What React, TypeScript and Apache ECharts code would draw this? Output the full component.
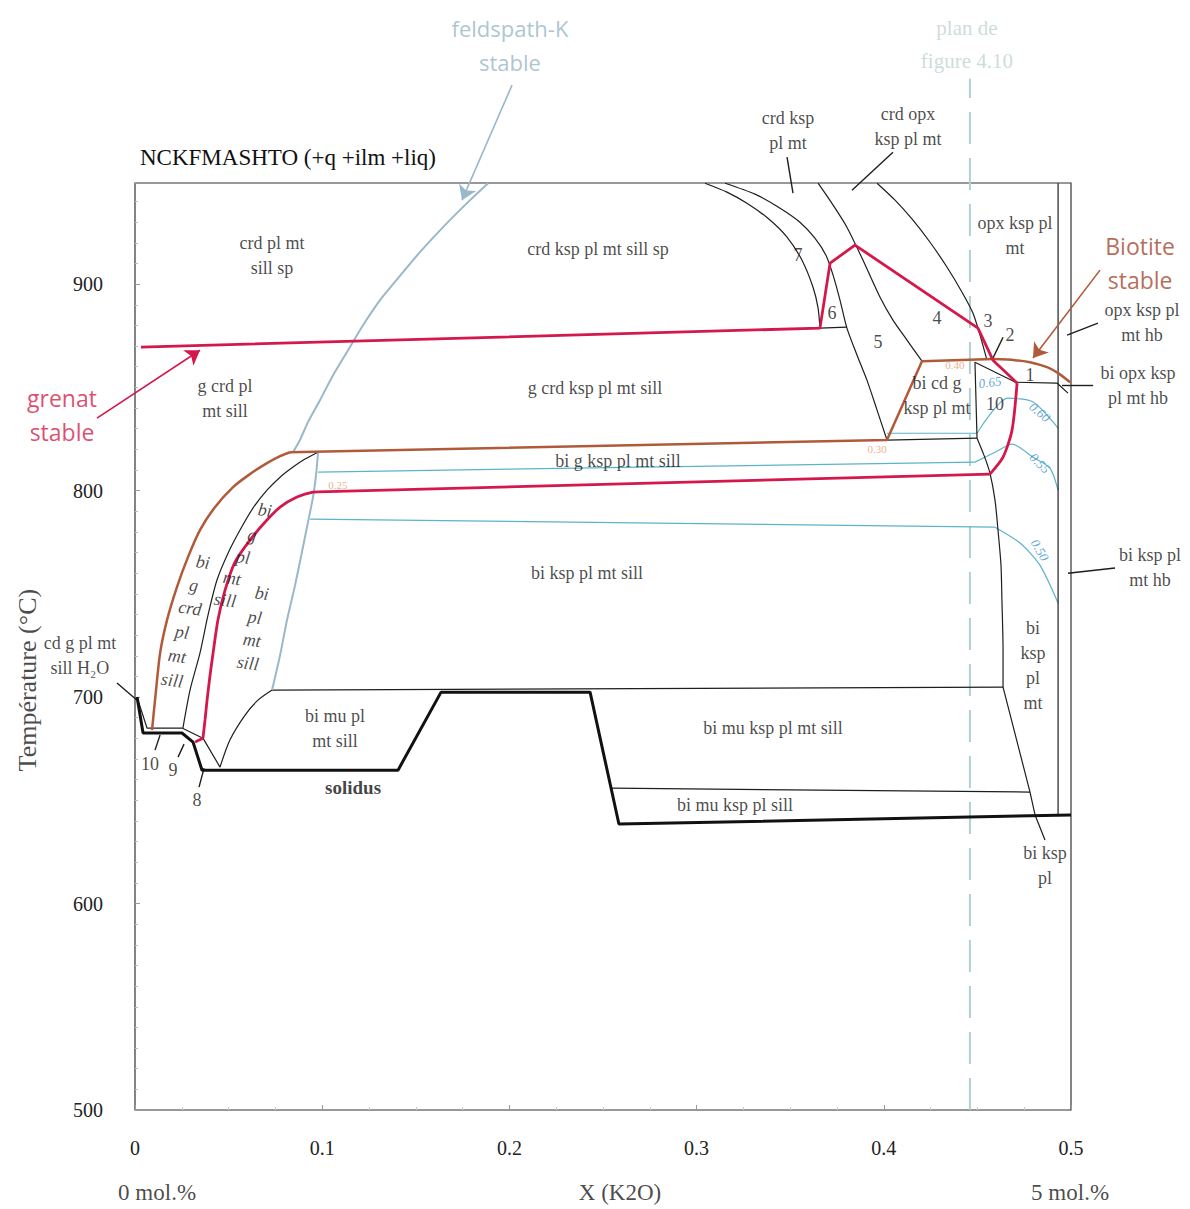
import React, { useEffect, useRef } from "react";
import * as echarts from "echarts";

type P = [number, number];

// Axis definition
const X_MIN = 0;
const X_MAX = 0.5;
const Y_MIN = 500;
const Y_MAX = 949;

// Solidus (thick black)
const SOLIDUS: P[] = [[0.0011, 700.0], [0.0043, 682.6], [0.0251, 682.6], [0.031, 678.2], [0.0358, 664.6], [0.1405, 664.6], [0.1635, 702.4], [0.2431, 702.4], [0.2585, 638.5], [0.5, 642.9]];

// Thin black boundaries: [points, smooth]
const BLACK_LINES: [P[], boolean][] = [
  [[[0.0732, 703.4], [0.4637, 704.8]], false],
  [[[0.0011, 700.0], [0.0064, 685.0], [0.0251, 685.0], [0.0363, 680.1], [0.0454, 666.1]], false],
  [[[0.0454, 666.1], [0.0507, 679.2], [0.0588, 691.3], [0.0657, 698.5], [0.0732, 703.4]], true],
  [[[0.0256, 685.0], [0.0294, 703.4], [0.0347, 721.3], [0.039, 739.7], [0.0438, 756.7], [0.0497, 769.7], [0.0561, 780.9], [0.063, 791.5], [0.0705, 800.2], [0.0775, 806.5], [0.0844, 811.4], [0.0908, 815.3], [0.0978, 818.6]], true],
  [[[0.3045, 948.9], [0.3162, 944.6], [0.3269, 939.2], [0.3381, 931.9], [0.3483, 922.8], [0.3563, 911.6], [0.3622, 898.5], [0.3649, 888.4], [0.3659, 878.7]], true],
  [[[0.3152, 948.9], [0.3312, 943.6], [0.3446, 936.8], [0.3552, 930.0], [0.3632, 922.3], [0.3691, 914.0], [0.3729, 904.4], [0.3766, 892.3], [0.3803, 878.7], [0.3857, 865.6], [0.391, 853.5], [0.3964, 839.0], [0.4017, 824.5]], true],
  [[[0.3659, 878.7], [0.3803, 879.2]], false],
  [[[0.3649, 948.9], [0.3729, 938.3], [0.3803, 927.6], [0.3889, 911.6], [0.398, 893.7], [0.4049, 882.6], [0.4124, 872.9], [0.4204, 862.7]], true],
  [[[0.3964, 948.9], [0.406, 940.7], [0.4156, 931.0], [0.4247, 920.3], [0.4338, 908.2], [0.4418, 896.1], [0.4476, 886.0], [0.4514, 875.3], [0.4551, 863.2]], true],
  [[[0.4487, 862.2], [0.4498, 825.4]], false],
  [[[0.4487, 862.2], [0.4712, 852.1]], false],
  [[[0.4017, 824.5], [0.4498, 825.4]], false],
  [[[0.4498, 825.4], [0.4535, 817.2], [0.4567, 808.5], [0.4594, 795.4], [0.461, 780.9], [0.4626, 763.9], [0.4631, 747.0], [0.4637, 722.8], [0.4637, 704.8]], true],
  [[[0.4637, 704.8], [0.4781, 654.0], [0.4808, 642.9]], false],
  [[[0.4808, 642.9], [0.4861, 630.8]], false],
  [[[0.2543, 655.9], [0.4781, 654.0]], false],
  [[[0.4701, 852.5], [0.4925, 852.1], [0.4984, 847.2]], false],
  [[[0.4931, 948.9], [0.4931, 642.9]], false],
];

// Label leader lines
const POINTERS: P[][] = [
  [[0.3483, 961.5], [0.3515, 944.1]],
  [[0.4049, 963.9], [0.383, 945.5]],
  [[0.5144, 881.1], [0.4979, 875.3]],
  [[0.5118, 851.1], [0.4952, 851.1]],
  [[0.5235, 762.5], [0.4984, 760.0]],
  [[-0.0096, 706.8], [0.0011, 698.5]],
  [[0.0107, 674.3], [0.0134, 681.6]],
  [[0.023, 670.9], [0.0262, 677.2]],
  [[0.0342, 656.4], [0.0369, 665.6]],
  [[0.4637, 874.3], [0.4583, 864.2]],
];

// Biotite-in (brown)
const BROWN_LINES: [P[], boolean][] = [
  [[[0.0091, 684.0], [0.0107, 698.5], [0.0134, 721.3], [0.0171, 737.3], [0.0224, 753.3], [0.0283, 767.8], [0.0347, 780.9], [0.0427, 792.0], [0.0524, 801.7], [0.0614, 808.0], [0.0705, 813.3], [0.0775, 816.7], [0.0828, 818.6]], true],
  [[[0.0828, 818.6], [0.4017, 824.5], [0.4204, 862.7], [0.4583, 863.7]], false],
  [[[0.4583, 863.7], [0.4701, 863.2], [0.4781, 862.2], [0.4872, 859.8], [0.4931, 856.9], [0.4995, 852.5]], true],
];

// Garnet-in (crimson)
const RED_LINES: [P[], boolean][] = [
  [[[0.0321, 678.2], [0.0363, 680.1]], false],
  [[[0.0363, 680.1], [0.0374, 688.9], [0.0385, 698.5], [0.0401, 710.7], [0.0417, 721.3], [0.0443, 737.3], [0.0481, 751.8], [0.0534, 765.4], [0.0614, 776.0], [0.0694, 784.7], [0.0775, 792.0], [0.0865, 796.9], [0.0951, 799.3], [0.0978, 799.4]], true],
  [[[0.0978, 799.4], [0.4567, 808.0]], false],
  [[[0.4567, 808.0], [0.4637, 816.2], [0.4685, 829.3], [0.4712, 852.1]], true],
  [[[0.4712, 852.1], [0.4583, 863.2], [0.4503, 878.7], [0.3846, 918.9], [0.3713, 910.2], [0.3659, 878.7], [0.0032, 869.5]], false],
];

// K-feldspar-in (light blue)
const BLUE_LINES: [P[], boolean][] = [
  [[[0.1886, 948.9], [0.179, 940.7], [0.1656, 928.6], [0.1522, 915.5], [0.1405, 902.9], [0.1309, 892.3], [0.1218, 880.1], [0.1138, 868.0], [0.1058, 855.9], [0.0988, 843.8], [0.0924, 833.2], [0.0881, 824.5], [0.0844, 818.6]], true],
  [[[0.0978, 818.6], [0.0967, 807.5], [0.0951, 796.9], [0.0924, 784.7], [0.0897, 772.6], [0.0855, 754.2], [0.0812, 737.3], [0.0775, 720.3], [0.0732, 703.4]], true],
];

// Isopleths (cyan)
const CYAN_LINES: [P[], boolean][] = [
  [[[0.0978, 809.0], [0.4487, 813.8]], false],
  [[[0.4487, 813.8], [0.4594, 818.6], [0.4685, 822.5], [0.4797, 816.2], [0.4888, 810.9], [0.4931, 800.2]], true],
  [[[0.0935, 786.2], [0.4594, 782.3]], false],
  [[[0.4594, 782.3], [0.4728, 774.6], [0.4834, 763.9], [0.4931, 745.5]], true],
  [[[0.4017, 827.8], [0.4498, 827.8]], false],
  [[[0.4498, 827.8], [0.4663, 844.8], [0.4797, 842.9], [0.4931, 830.3]], true],
];

const PLAN_LINE: P[] = [[0.446, 500], [0.446, 999.5]];

// Arrows: [from, to, colourKey]
const ARROWS: [P, P, string][] = [
  [[-0.0203, 835.1], [0.0347, 868.0], "red"],
  [[0.5155, 906.8], [0.4797, 864.2], "brown"],
  [[0.2014, 996.4], [0.1747, 940.7], "blue"],
];

// Labels
const REGION_LABELS: [number, number, string][] = [
  [0.0732, 914.0, "crd pl mt\nsill sp"],
  [0.2473, 916.9, "crd ksp pl mt sill sp"],
  [0.0481, 844.8, "g crd pl\nmt sill"],
  [0.2457, 849.6, "g crd ksp pl mt sill"],
  [0.258, 814.3, "bi g ksp pl mt sill"],
  [0.2415, 760.0, "bi ksp pl mt sill"],
  [0.1068, 685.0, "bi mu pl\nmt sill"],
  [0.3408, 685.0, "bi mu ksp pl mt sill"],
  [0.3205, 647.7, "bi mu ksp pl sill"],
  [0.3488, 974.6, "crd ksp\npl mt"],
  [0.4129, 976.5, "crd opx\nksp pl mt"],
  [0.4701, 923.7, "opx ksp pl\nmt"],
  [0.5379, 881.6, "opx ksp pl\nmt hb"],
  [0.5358, 851.1, "bi opx ksp\npl mt hb"],
  [0.5422, 763.0, "bi ksp pl\nmt hb"],
  [0.4797, 715.5, "bi\nksp\npl\nmt"],
  [0.4861, 618.6, "bi ksp\npl"],
  [0.4284, 846.2, "bi cd g\nksp pl mt"],
  [-0.0294, 720.3, "cd g pl mt\nsill H\u2082O"],
];

const WORD_LABELS: [number, number, string][] = [
  [0.0363, 765.4, "bi"], [0.0314, 754.2, "g"], [0.0294, 743.1, "crd"], [0.0251, 731.5, "pl"], [0.0225, 719.9, "mt"], [0.0198, 708.2, "sill"],
  [0.0694, 790.6, "bi"], [0.0625, 778.5, "g"], [0.0577, 767.8, "pl"], [0.0518, 757.6, "mt"], [0.0481, 747.0, "sill"],
  [0.0678, 750.3, "bi"], [0.064, 738.7, "pl"], [0.0625, 727.6, "mt"], [0.0603, 716.5, "sill"],
];

const NUMBER_LABELS: [number, number, string][] = [
  [0.008, 667.6, "10"], [0.0203, 664.6, "9"], [0.0331, 650.1, "8"],
  [0.3542, 914.0, "7"], [0.3723, 886.0, "6"], [0.3969, 871.9, "5"], [0.4284, 883.5, "4"],
  [0.4557, 882.1, "3"], [0.4674, 875.3, "2"], [0.4781, 855.9, "1"], [0.4594, 841.9, "10"],
];

const ORANGE_LABELS: [number, number, string][] = [
  [0.1084, 802.7, "0.25"], [0.3964, 820.1, "0.30"], [0.438, 861.0, "0.40"],
];

const CYAN_LABELS: [number, number, string, number][] = [
  [0.4567, 852.5, "0.65", 8], [0.4834, 838.0, "0.60", -40], [0.4834, 813.3, "0.55", -45], [0.4834, 771.2, "0.50", -60],
];

const CALLOUTS: [number, number, string, string][] = [
  [0.2003, 1015.7, "feldspath-K\nstable", "blue"],
  [0.4444, 1016.2, "plan de\nfigure 4.10", "plan"],
  [0.5369, 910.2, "Biotite\nstable", "brown"],
  [-0.039, 836.6, "grenat\nstable", "red"],
];

const AXIS_TEXTS: [number, number, string, number][] = [
  [-0.0572, 708.2, "Température (°C)", 90],
  [0.0118, 459.8, "0 mol.%", 0],
  [0.2591, 459.8, "X (K2O)", 0],
  [0.4995, 459.8, "5 mol.%", 0],
];

const TITLE = "NCKFMASHTO (+q +ilm +liq)";

const SERIF = '"Liberation Serif", "Times New Roman", serif';
const SANS = '"Open Sans", "Noto Sans", sans-serif';

const COLORS: Record<string, string> = {
  black: "#1e1e1e",
  brown: "#b05a3a",
  red: "#d4184b",
  blue: "#9ab8cb",
  cyan: "#5db3c9",
  plan: "#b3cfd2",
  orange: "#e99a6a",
  isoText: "#3b8fd0",
};

function lineSeries(pts: P[], color: string, width: number, smooth: boolean, z = 3, extra: any = {}) {
  return {
    type: "line",
    data: pts,
    showSymbol: false,
    symbol: "none",
    smooth: smooth ? 0.25 : false,
    clip: false,
    silent: true,
    z,
    lineStyle: { color, width, ...extra },
  };
}

function lab(x: number, y: number, text: string, style: any) {
  return {
    value: [x, y],
    label: { show: true, position: "inside", formatter: text, ...style },
  };
}

export default function App() {
  const ref = useRef<HTMLDivElement>(null);

  useEffect(() => {
    if (!ref.current) return;
    const chart = echarts.init(ref.current, undefined, { renderer: "svg" });

    const series: any[] = [];
    CYAN_LINES.forEach(([p, s]) => series.push(lineSeries(p, COLORS.cyan, 1.2, s, 2)));
    series.push(lineSeries(PLAN_LINE, COLORS.plan, 2, false, 1, { type: [32, 14] }));
    BLACK_LINES.forEach(([p, s]) => series.push(lineSeries(p, COLORS.black, 1.2, s, 3)));
    BLUE_LINES.forEach(([p, s]) => series.push(lineSeries(p, COLORS.blue, 2, s, 3)));
    BROWN_LINES.forEach(([p, s]) => series.push(lineSeries(p, COLORS.brown, 2.5, s, 4)));
    RED_LINES.forEach(([p, s]) => series.push(lineSeries(p, COLORS.red, 2.8, s, 5)));
    series.push(lineSeries(SOLIDUS, "#111", 3, false, 6));

    series.push({
      type: "lines",
      coordinateSystem: "cartesian2d",
      symbol: "none",
      silent: true,
      clip: false,
      z: 4,
      lineStyle: { color: COLORS.black, width: 1.4, opacity: 1 },
      data: POINTERS.map((p) => ({ coords: p })),
    });

    series.push({
      type: "lines",
      coordinateSystem: "cartesian2d",
      symbol: ["none", "arrow"],
      symbolSize: 14,
      silent: true,
      clip: false,
      z: 6,
      data: ARROWS.map(([a, b, c]) => ({
        coords: [a, b],
        lineStyle: { color: COLORS[c], width: 1.6, opacity: 1 },
      })),
    });

    const labelData: any[] = [];
    REGION_LABELS.forEach(([x, y, t]) =>
      labelData.push(lab(x, y, t, { fontFamily: SERIF, fontSize: 18, lineHeight: 25, color: "#1a1a1a" }))
    );
    WORD_LABELS.forEach(([x, y, t]) =>
      labelData.push(lab(x, y, t, { fontFamily: SERIF, fontSize: 18, color: "#1a1a1a", fontStyle: "italic", rotate: -8 }))
    );
    NUMBER_LABELS.forEach(([x, y, t]) =>
      labelData.push(lab(x, y, t, { fontFamily: SERIF, fontSize: 18, color: "#1a1a1a" }))
    );
    ORANGE_LABELS.forEach(([x, y, t]) =>
      labelData.push(lab(x, y, t, { fontFamily: SERIF, fontSize: 11, color: COLORS.orange }))
    );
    CYAN_LABELS.forEach(([x, y, t, r]) =>
      labelData.push(lab(x, y, t, { fontFamily: SERIF, fontSize: 13, fontStyle: "italic", color: COLORS.isoText, rotate: r }))
    );
    CALLOUTS.forEach(([x, y, t, k]) => {
      const style =
        k === "plan"
          ? { fontFamily: SERIF, fontSize: 21, lineHeight: 33, color: "#bfd3d3" }
          : { fontFamily: SANS, fontSize: k === "blue" ? 22 : 23, lineHeight: 34, color: k === "brown" ? "#a3462e" : k === "red" ? "#d21f4b" : "#98b6c6" };
      labelData.push(lab(x, y, t, style));
    });
    labelData.push(lab(0.1165, 656.4, "solidus", { fontFamily: SERIF, fontSize: 19, fontWeight: "bold", color: "#111" }));
    AXIS_TEXTS.forEach(([x, y, t, r]) =>
      labelData.push(lab(x, y, t, { fontFamily: SERIF, fontSize: r ? 26 : 23, color: "#1a1a1a", rotate: r }))
    );

    series.push({
      type: "scatter",
      data: labelData,
      symbolSize: 0.1,
      itemStyle: { color: "transparent" },
      clip: false,
      silent: true,
      z: 10,
    });

    chart.setOption({
      animation: false,
      title: {
        text: TITLE,
        left: 135,
        top: 141,
        textStyle: { fontFamily: SERIF, fontSize: 23, fontWeight: "normal", color: "#111" },
      },
      grid: {
        left: 135,
        right: 119,
        top: 183,
        bottom: 99,
        show: true,
        borderColor: "#333",
        borderWidth: 1.2,
        backgroundColor: "transparent",
      },
      xAxis: {
        type: "value",
        min: X_MIN,
        max: X_MAX,
        interval: 0.1,
        axisLine: { show: false },
        splitLine: { show: false },
        axisTick: { show: true, inside: true, length: 5, lineStyle: { color: "#999" } },
        minorTick: { show: true, splitNumber: 4, length: 3, lineStyle: { color: "#ccc" } },
        axisLabel: { fontFamily: SERIF, fontSize: 20, color: "#222", margin: 28 },
      },
      yAxis: {
        type: "value",
        min: Y_MIN,
        max: Y_MAX,
        interval: 100,
        axisLine: { show: false },
        splitLine: { show: false },
        axisTick: { show: true, inside: true, length: 5, lineStyle: { color: "#999" } },
        minorTick: { show: true, splitNumber: 10, length: 3, lineStyle: { color: "#bbb" } },
        axisLabel: { fontFamily: SERIF, fontSize: 20, color: "#222", margin: 32, showMaxLabel: false },
      },
      series,
    });

    return () => chart.dispose();
  }, []);

  return (
    <div
      ref={ref}
      style={{ position: "fixed", left: 0, top: 0, width: 1190, height: 1209, background: "#fff" }}
    />
  );
}
